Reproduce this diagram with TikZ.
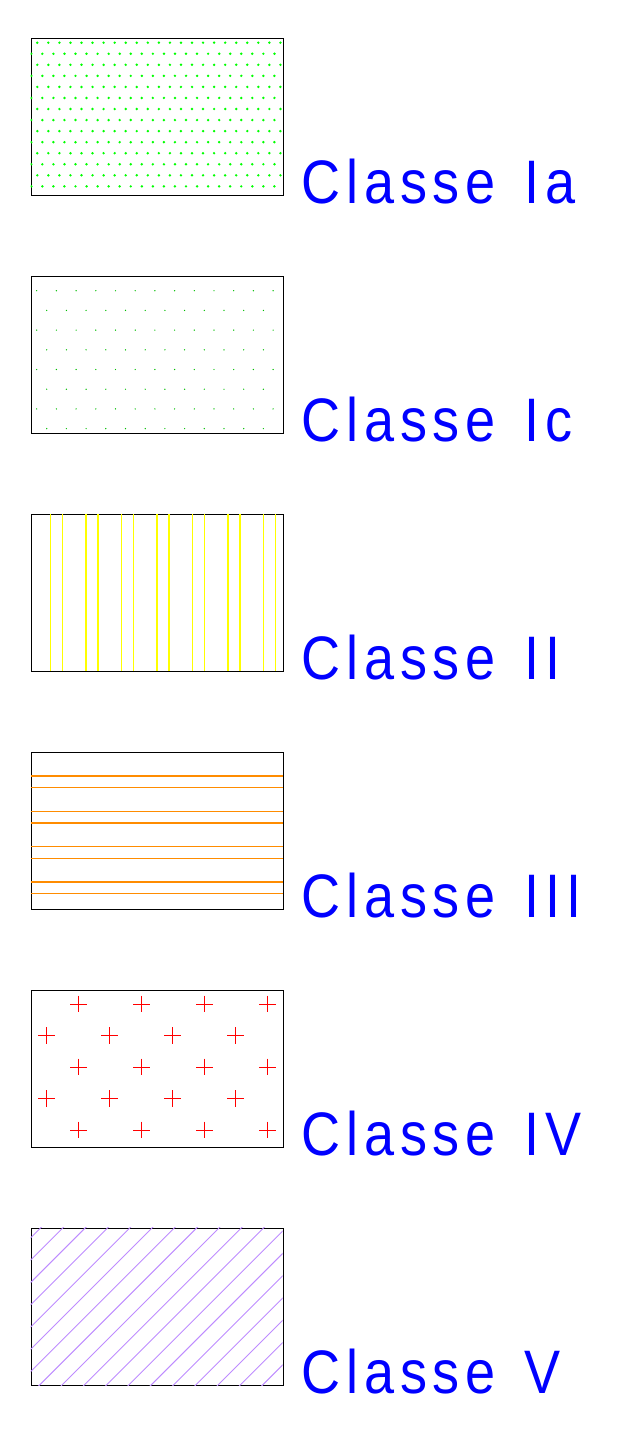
\documentclass[tikz,border=0pt]{standalone}
\usepackage{fontspec}
\newfontfamily\classfont[FakeStretch=0.88,LetterSpace=9.4,WordSpace=1.4]{Liberation Sans}
\usetikzlibrary{positioning}
\definecolor{classblue}{RGB}{0,0,255}
\definecolor{dotgreen}{RGB}{0,255,0}
\definecolor{dotdarkgreen}{RGB}{0,190,0}
\definecolor{lineyellow}{RGB}{255,255,0}
\definecolor{lineorange}{RGB}{255,140,0}
\definecolor{crossred}{RGB}{255,0,0}
\definecolor{hatchpurple}{RGB}{190,140,255}
\tikzset{
  classbox/.style={draw=black, line width=1pt, minimum width=252pt,
    minimum height=157.5pt, inner sep=0pt, anchor=north west},
  classlabel/.style={anchor=base west, inner sep=0pt, text=classblue,
    font=\classfont\fontsize{61.4}{70}\selectfont}
}

\begin{document}
\begin{tikzpicture}[x=1pt,y=-1pt]
  \useasboundingbox (0,0) rectangle (628,1435);
  % boxes
  \node[classbox] (ia)  at (30.5,37.5)   {};
  \node[classbox] (ic)  at (30.5,275.5)  {};
  \node[classbox] (ii)  at (30.5,513.5)  {};
  \node[classbox] (iii) at (30.5,751.5)  {};
  \node[classbox] (iv)  at (30.5,989.5)  {};
  \node[classbox] (v)   at (30.5,1227.5) {};
  \foreach \b/\t in {ia/Ia,ic/Ic,ii/II,iii/III,iv/IV,v/V}
    \node[classlabel] (\b-label) at ([xshift=18pt,yshift=-7.5pt]\b.south east) {Classe \t};

  % Ia
  \begin{scope}[shift={(ia.north west)}]
    \clip (0,0) rectangle (252,157.5);
    \foreach \r in {0,2,...,12}
      \foreach \c in {0,...,22}
        \fill[dotgreen] (6.8+11.05*\c,5.2+11.05*\r) circle (1.35);
    \foreach \r in {1,3,...,13}
      \foreach \c in {0,...,22}
        \fill[dotgreen] (0.8+11.05*\c,5.2+11.05*\r) circle (1.35);
  \end{scope}

  % Ic
  \begin{scope}[shift={(ic.north west)}]
    \clip (0,0) rectangle (252,157.5);
    \foreach \r in {0,2,...,6}
      \foreach \c in {0,...,12}
        \fill[dotdarkgreen] (6.2+19.7*\c,15.2+19.7*\r) circle (0.7);
    \foreach \r in {1,3,...,7}
      \foreach \c in {0,...,11}
        \fill[dotdarkgreen] (16.2+19.7*\c,15.2+19.7*\r) circle (0.7);
  \end{scope}

  % II
  \begin{scope}[shift={(ii.north west)}]
    \foreach \j in {0,...,6} {
      \draw[lineyellow, line width=1.4pt] (19.8+35.5*\j,0) -- (19.8+35.5*\j,157.5);
      \draw[lineyellow, line width=1.4pt] (31.8+35.5*\j,0) -- (31.8+35.5*\j,157.5);
    }
  \end{scope}

  % III
  \begin{scope}[shift={(iii.north west)}]
    \foreach \j in {0,...,3} {
      \draw[lineorange, line width=1.2pt] (0,24.5+35.3*\j) -- (252,24.5+35.3*\j);
      \draw[lineorange, line width=1.2pt] (0,36.2+35.3*\j) -- (252,36.2+35.3*\j);
    }
  \end{scope}

  % IV
  \begin{scope}[shift={(iv.north west)}]
    \foreach \r in {0,2,4}
      \foreach \c in {0,...,3}
        \draw[crossred, line width=1pt]
          (39.5+63*\c,14.5+31.5*\r) -- ++(16.6,0)
          (47.8+63*\c,6.2+31.5*\r) -- ++(0,16.6);
    \foreach \r in {1,3}
      \foreach \c in {0,...,3}
        \draw[crossred, line width=1pt]
          (7.9+63*\c,14.5+31.5*\r) -- ++(16.6,0)
          (16.2+63*\c,6.2+31.5*\r) -- ++(0,16.6);
  \end{scope}

  % V
  \begin{scope}[shift={(v.north west)}]
    \clip (0,0) rectangle (252,157.5);
    \foreach \k in {-1,...,18}
      \draw[hatchpurple, line width=0.9pt] (15.5+22.3*\k,-5) -- (-164.5+22.3*\k,175);
  \end{scope}
\end{tikzpicture}
\end{document}
